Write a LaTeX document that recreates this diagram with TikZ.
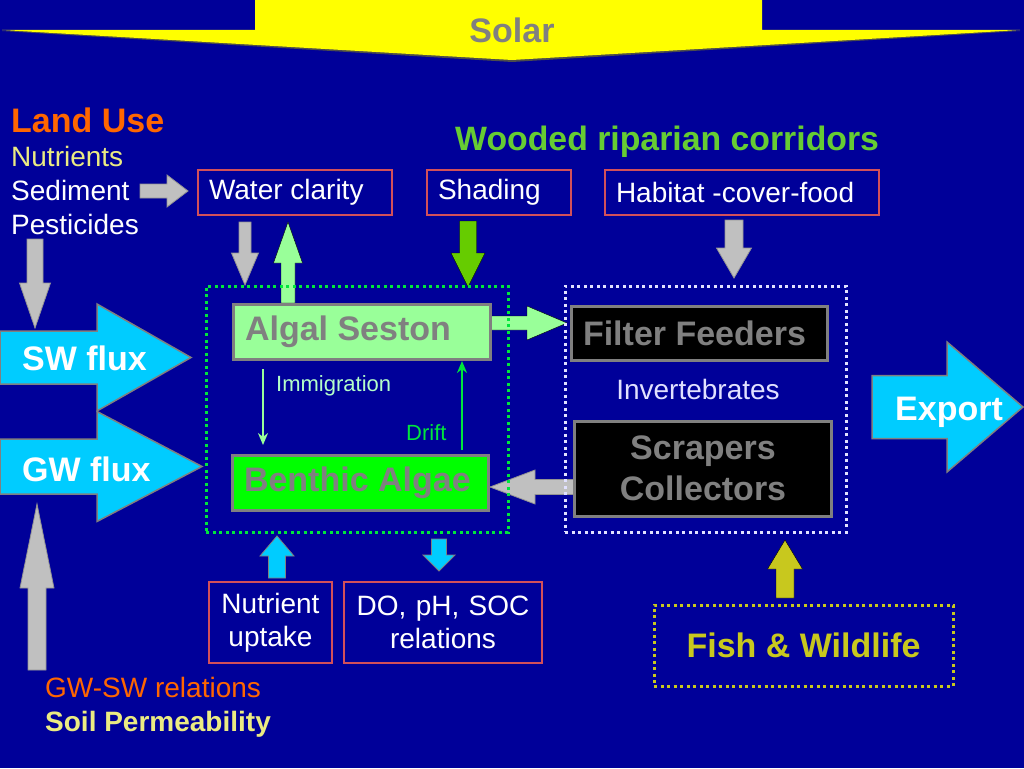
\documentclass[tikz,border=0pt]{standalone}
\usepackage{fontspec}
\setmainfont{Liberation Sans}
\usetikzlibrary{calc,arrows.meta}
\definecolor{bg}{RGB}{0,0,153}
\definecolor{solary}{RGB}{255,255,0}
\definecolor{txtgrey}{RGB}{128,128,128}
\definecolor{lgreen}{RGB}{153,255,153}
\definecolor{bgreen}{RGB}{0,255,0}
\definecolor{dotgreen}{RGB}{0,230,60}
\definecolor{cyanb}{RGB}{0,204,255}
\definecolor{arrgrey}{RGB}{192,192,192}
\definecolor{redline}{RGB}{210,80,90}
\definecolor{orng}{RGB}{255,102,0}
\definecolor{pyellow}{RGB}{235,235,130}
\definecolor{woodgreen}{RGB}{102,204,51}
\definecolor{shadegreen}{RGB}{102,204,0}
\definecolor{olivey}{RGB}{200,200,30}
\definecolor{lavw}{RGB}{225,225,255}
\definecolor{immig}{RGB}{180,255,200}
\definecolor{driftg}{RGB}{0,230,60}
\newcommand{\szL}{\fontsize{34}{41}\selectfont}
\newcommand{\szM}{\fontsize{28}{33}\selectfont}
\newcommand{\szS}{\fontsize{22}{26}\selectfont}
% block arrow: style, start, tip, shaft half width, head half width, head length
\newcommand{\barrow}[6]{%
  \coordinate (bahead) at ($(#3)!#6!(#2)$);
  \filldraw[#1] ($(#2)!#4!90:(#3)$) -- ($(bahead)!#4!90:(#3)$) -- ($(bahead)!#5!90:(#3)$) -- (#3)
    -- ($(bahead)!#5!-90:(#3)$) -- ($(bahead)!#4!-90:(#3)$) -- ($(#2)!#4!-90:(#3)$) -- cycle;}
\newcommand{\lbox}[2]{\makebox[#1][l]{#2}}
\begin{document}
\begin{tikzpicture}[x=1pt,y=-1pt,
  txt/.style={inner sep=0pt},
  redbox/.style={draw=redline, line width=1.5pt, inner xsep=11pt, inner ysep=0pt, text=white, font=\szM},
  greybox/.style={draw=txtgrey, line width=3pt, inner xsep=12pt, inner ysep=0pt, text=txtgrey, font=\szL\bfseries},
  dotbox/.style={line width=3pt, dash pattern=on 3pt off 3.5pt, inner sep=0pt},
  garrow/.style={fill=arrgrey, draw=gray!85, line width=0.8pt},
  carrow/.style={fill=cyanb, draw=gray, line width=1.5pt},
  thinarrow/.style={line width=2pt, -{Stealth[length=12pt,width=10pt]}}]
\fill[bg] (0,0) rectangle (1024,768);
\useasboundingbox (0,0) rectangle (1024,768);

% Solar arrow
\fill[black!70] (2,31) -- (512,62) -- (1020,31) -- cycle;
\fill[solary] (255,0) -- (762,0) -- (762,30) -- (1020,30) -- (512,60) -- (2,30) -- (255,30) -- cycle;
\node[txt, font=\szL\bfseries, text=txtgrey] (solar) at (512,30) {Solar};

% Left texts
\node[txt, anchor=base west, font=\fontsize{34}{40}\selectfont\bfseries, text=orng] (landuse) at (11,132) {Land Use};
\node[txt, anchor=base west, font=\szM, text=pyellow] (nutr) at (11,166) {Nutrients};
\node[txt, anchor=base west, font=\szM, text=white] (sed) at (11,200) {Sediment};
\node[txt, anchor=base west, font=\szM, text=white] (pest) at (11,234) {Pesticides};
\node[txt, anchor=base west, font=\fontsize{33.8}{40}\selectfont\bfseries, text=woodgreen] (wooded) at (455,150) {Wooded riparian corridors};

% Top boxes
\node[redbox, minimum height=45pt] (wc) at (295,192.5) {\lbox{172pt}{Water clarity}};
\node[redbox, minimum height=45pt] (shading) at (499,192.5) {\lbox{122pt}{Shading}};
\node[redbox, minimum height=45pt] (habitat) at (742,192.5) {\lbox{252pt}{Habitat -cover-food}};

% Block arrows
\coordinate (sedA) at (140,191); \coordinate (sedB) at (188,191);
\barrow{garrow}{sedA}{sedB}{7pt}{16pt}{21pt}
\coordinate (pestA) at (35,239); \coordinate (pestB) at (35,328);
\barrow{garrow}{pestA}{pestB}{8pt}{15.5pt}{45pt}
\coordinate (wcA) at (245,222); \coordinate (wcB) at (245,285);
\barrow{garrow}{wcA}{wcB}{6pt}{13.5pt}{32pt}
\coordinate (upA) at (288,303); \coordinate (upB) at (288,222);
\barrow{fill=lgreen}{upA}{upB}{7pt}{14.5pt}{41pt}
\coordinate (shA) at (468,221); \coordinate (shB) at (468,287);
\barrow{fill=shadegreen}{shA}{shB}{8.5pt}{17pt}{34pt}
\coordinate (habA) at (734,220); \coordinate (habB) at (734,278);
\barrow{garrow}{habA}{habB}{9pt}{17.5pt}{30pt}
\coordinate (afA) at (489,323); \coordinate (afB) at (567,323);
\barrow{fill=lgreen}{afA}{afB}{7pt}{17pt}{40pt}
\coordinate (sbA) at (575,487); \coordinate (sbB) at (490,487);
\barrow{garrow}{sbA}{sbB}{7.5pt}{17pt}{45pt}
\coordinate (swA) at (0,357.5); \coordinate (swB) at (191,357.5);
\barrow{carrow}{swA}{swB}{26.5pt}{53.5pt}{94pt}
\coordinate (gwA) at (0,466.5); \coordinate (gwB) at (202,466.5);
\barrow{carrow}{gwA}{gwB}{27.5pt}{55pt}{105pt}
\coordinate (blA) at (37,670); \coordinate (blB) at (37,504);
\barrow{garrow}{blA}{blB}{9pt}{17pt}{84pt}
\coordinate (nuA) at (277,578); \coordinate (nuB) at (277,536);
\barrow{fill=cyanb, draw=gray, line width=0.8pt}{nuA}{nuB}{8.5pt}{17pt}{20pt}
\coordinate (doA) at (439,539); \coordinate (doB) at (439,571);
\barrow{fill=cyanb, draw=gray, line width=0.8pt}{doA}{doB}{7.5pt}{16pt}{16pt}
\coordinate (fiA) at (785,598); \coordinate (fiB) at (785,540);
\barrow{fill=olivey}{fiA}{fiB}{9pt}{17.5pt}{29pt}
\coordinate (exA) at (872,407); \coordinate (exB) at (1023,407);
\barrow{carrow}{exA}{exB}{31.5pt}{65pt}{76pt}

% Group boxes
\node[dotbox, draw=dotgreen, minimum width=302pt, minimum height=246pt] (algaegroup) at (357,409) {};
\node[dotbox, draw=lavw, minimum width=281pt, minimum height=246pt] (invgroup) at (705.5,409) {};

% Algae boxes
\node[greybox, fill=lgreen, minimum height=55pt] (algal) at (361.5,331.5) {\lbox{233pt}{Algal Seston}};
\node[greybox, fill=bgreen, minimum height=55pt] (benthic) at (360,483) {\lbox{232pt}{Benthic Algae}};

% Immigration and drift
\coordinate (imA) at (263,369); \coordinate (imB) at (263,445);
\draw[thinarrow, draw=lgreen] (imA) -- (imB);
\node[txt, anchor=base west, font=\szS, text=immig] (immiglbl) at (276,391) {Immigration};
\coordinate (drA) at (462,450); \coordinate (drB) at (462,361);
\draw[thinarrow, draw=driftg] (drA) -- (drB);
\node[txt, anchor=base west, font=\szS, text=driftg] (driftlbl) at (406,440) {Drift};

% Invertebrates
\node[greybox, fill=black, minimum height=54pt] (filter) at (699,333) {\lbox{232pt}{Filter Feeders}};
\node[txt, anchor=base, font=\szM, text=lavw] (invlbl) at (698,399) {Invertebrates};
\node[greybox, fill=black, text width=233pt, align=center, minimum height=95pt] (scrapers) at (703,468.5) {Scrapers\\Collectors};

% Flux labels
\node[txt, anchor=base west, font=\szL\bfseries, text=white] (swlbl) at (22,370) {SW flux};
\node[txt, anchor=base west, font=\szL\bfseries, text=white] (gwlbl) at (22,481) {GW flux};
\node[txt, anchor=base west, font=\szL\bfseries, text=white] (exlbl) at (895,420) {Export};

% Bottom boxes
\node[redbox, text width=101pt, align=center, minimum height=81pt] (nutup) at (270.5,622.5) {Nutrient\\uptake};
\node[redbox, text width=176pt, align=center, minimum height=81pt] (dobox) at (443,622.5) {DO, pH, SOC\\relations};
\node[dotbox, draw=olivey, minimum width=299pt, minimum height=81pt, text=olivey, font=\szL\bfseries] (fish) at (803.5,645.5) {Fish \& Wildlife};

% Bottom left texts
\node[txt, anchor=base west, font=\szM, text=orng] (gwsw) at (45,697) {GW-SW relations};
\node[txt, anchor=base west, font=\szM\bfseries, text=pyellow] (soil) at (45,731) {Soil Permeability};
\end{tikzpicture}
\end{document}
